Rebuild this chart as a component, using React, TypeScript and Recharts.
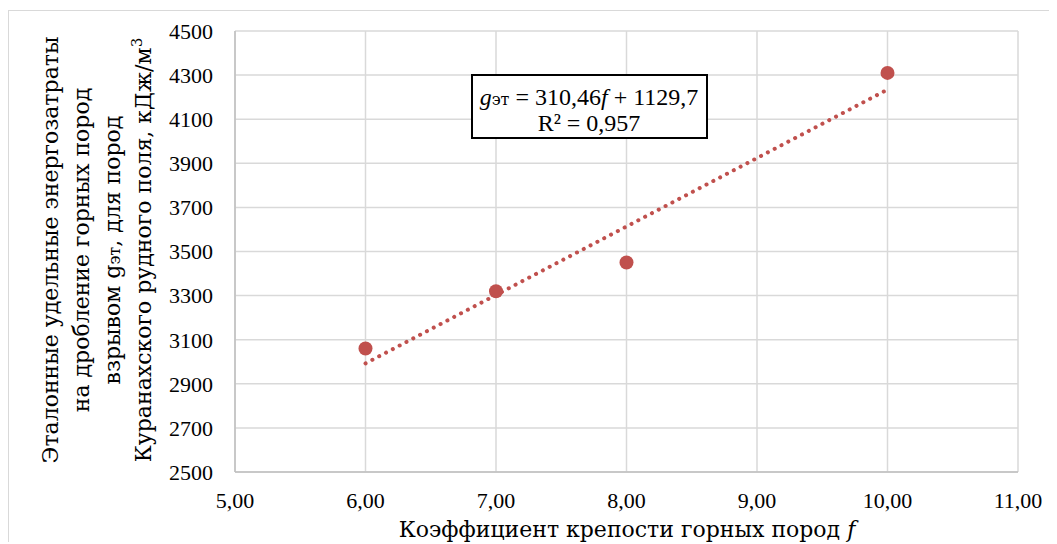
import React from 'react';
import { ScatterChart, Scatter, XAxis, YAxis, CartesianGrid } from 'recharts';

const hardness = [6, 7, 8, 10];
const energy = [3060, 3320, 3450, 4310];
const xTicks = [5, 6, 7, 8, 9, 10, 11];
const yTicks = [2500, 2700, 2900, 3100, 3300, 3500, 3700, 3900, 4100, 4300, 4500];
const trendSlope = 310.46;
const trendIntercept = 1129.7;
const trendRange = [6, 10];

const points = hardness.map((x, i) => ({ x, y: energy[i] }));
const trend = trendRange.map((x) => ({ x, y: trendSlope * x + trendIntercept }));

const FONT = '"Liberation Serif", "DejaVu Serif", serif';
const CYR = '"DejaVu Serif", "Liberation Serif", serif';
const RED = '#c0504d';

const YTitle = () => {
  const cy = 240;
  const base = [50, 81, 112, 143];
  const fs = 22;
  const mk = (i: number, children: React.ReactNode) => (
    <text
      key={i}
      x={base[i]}
      y={cy}
      transform={`rotate(-90 ${base[i]} ${cy})`}
      textAnchor="middle"
      fontSize={fs}
      fontFamily={CYR}
      fill="#000"
    >
      {children}
    </text>
  );
  return (
    <g>
      {mk(0, 'Эталонные удельные энергозатраты')}
      {mk(1, 'на дробление горных пород')}
      {mk(2, (
        <>
          <tspan>взрывом g</tspan>
          <tspan fontSize={16}>эт</tspan>
          <tspan>, для пород</tspan>
        </>
      ))}
      {mk(3, (
        <>
          <tspan>Куранахского рудного поля, кДж/м</tspan>
          <tspan fontSize={15} dy={-9}>3</tspan>
        </>
      ))}
    </g>
  );
};

const XTitle = () => (
  <text x={619} y={527} textAnchor="middle" fontSize={22} fontFamily={CYR} fill="#000">
    <tspan>Коэффициент крепости горных пород </tspan>
    <tspan fontStyle="italic">f</tspan>
  </text>
);

const NoShape = () => <g />;

export default function App() {
  return (
    <div style={{ position: 'relative', top: 2, width: 1049, height: 534, overflow: 'hidden', fontFamily: FONT }}>
      <div
        style={{
          position: 'absolute',
          left: 0,
          top: 0,
          width: 1070,
          height: 560,
          border: '1px solid #d9d9d9',
          boxSizing: 'border-box',
        }}
      />
      <div style={{ position: 'absolute', left: 0, top: 0 }}>
        <ScatterChart width={1049} height={534} margin={{ top: 21, right: 39, bottom: 0, left: 0 }}>
          <CartesianGrid stroke="#d9d9d9" strokeWidth={1.5} />
          <XAxis
            type="number"
            dataKey="x"
            domain={[5, 11]}
            ticks={xTicks}
            interval={0}
            tickFormatter={(v: number) => v.toFixed(2).replace('.', ',')}
            tick={{ fill: '#000', fontSize: 22, fontFamily: FONT }}
            tickLine={false}
            tickSize={0}
            tickMargin={20}
            axisLine={{ stroke: '#bfbfbf', strokeWidth: 1.5 }}
            height={72}
            label={{ content: () => <XTitle /> }}
          />
          <YAxis
            type="number"
            dataKey="y"
            domain={[2500, 4500]}
            ticks={yTicks}
            interval={0}
            tick={{ fill: '#000', fontSize: 22, fontFamily: FONT }}
            tickLine={false}
            tickSize={0}
            tickMargin={22}
            axisLine={{ stroke: '#bfbfbf', strokeWidth: 1.5 }}
            width={227}
            label={{ content: () => <YTitle /> }}
          />
          <Scatter
            data={trend}
            shape={<NoShape />}
            line={{ stroke: RED, strokeWidth: 4, strokeDasharray: '0.1 7.6', strokeLinecap: 'round' }}
            isAnimationActive={false}
          />
          <Scatter
            data={points}
            fill={RED}
            shape={(p: any) => <circle cx={p.cx} cy={p.cy} r={7} fill={RED} />}
            isAnimationActive={false}
          />
        </ScatterChart>
      </div>
      <svg style={{ position: 'absolute', left: 462, top: 63 }} width={240} height={68}>
        <rect x={2} y={2} width={235} height={63} fill="#fff" stroke="#000" strokeWidth={2} />
        <text x={119} y={32} textAnchor="middle" fontSize={24} fontFamily={FONT} fill="#000">
          <tspan fontStyle="italic">g</tspan>
          <tspan fontSize={16} fontFamily={CYR}>эт</tspan>
          <tspan> = 310,46</tspan>
          <tspan fontStyle="italic">f</tspan>
          <tspan> + 1129,7</tspan>
        </text>
        <text x={119} y={58} textAnchor="middle" fontSize={24} fontFamily={FONT} fill="#000">
          R² = 0,957
        </text>
      </svg>
    </div>
  );
}
